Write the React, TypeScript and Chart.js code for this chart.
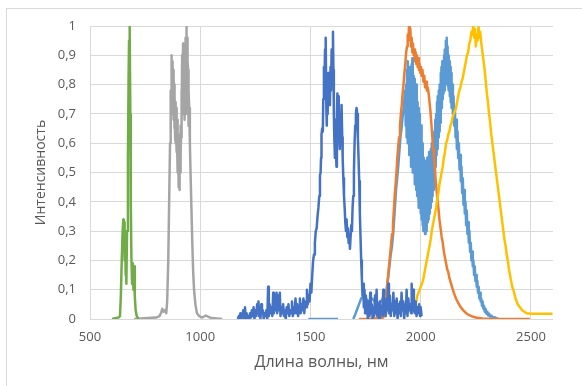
import React, { useEffect, useRef } from "react";
import { Chart, registerables } from "chart.js";

Chart.register(...registerables);

type Pt = [number, number | null];

const xTickValues = [500, 1000, 1500, 2000, 2500];
const yTickLabels = ["0", "0,1", "0,2", "0,3", "0,4", "0,5", "0,6", "0,7", "0,8", "0,9", "1"];
const xTitle = "Длина волны, нм";
const yTitle = "Интенсивность";

const greenSeries: Pt[] = [
  [600, 0], [615, 0.003], [630, 0.005], [636, 0.01], [640, 0.08], [644, 0.2], [648, 0.3], [651, 0.34],
  [653, 0.25], [655, 0.33], [657, 0.2], [659, 0.3], [661, 0.15], [663, 0.22], [665, 0.12], [668, 0.3],
  [672, 0.55], [675, 0.82], [677, 0.95], [679, 1.0], [681, 0.98], [683, 0.7], [685, 0.4], [688, 0.2],
  [691, 0.12], [694, 0.19], [697, 0.1], [700, 0.18], [703, 0.08], [707, 0.03], [712, 0.01], [720, 0],
];

const graySeries: Pt[] = [
  [700, 0], [760, 0.003], [800, 0.005], [815, 0.01], [822, 0.02], [828, 0.035], [834, 0.025], [840, 0.03],
  [846, 0.02], [850, 0.06], [855, 0.2], [859, 0.4], [863, 0.6], [866, 0.78], [868, 0.7], [869, 0.9], [871, 0.8],
  [872, 0.86], [873, 0.88], [874, 0.72], [875, 0.75], [876, 0.86], [877, 0.85], [878, 0.68], [879, 0.7], [880, 0.82],
  [881, 0.8], [882, 0.65], [883, 0.66], [884, 0.78], [885, 0.76], [886, 0.62], [887, 0.65], [888, 0.74],
  [889, 0.72], [890, 0.6], [891, 0.62], [892, 0.72], [893, 0.7], [894, 0.57], [895, 0.6], [896, 0.68], [897, 0.66],
  [898, 0.5], [899, 0.52], [900, 0.63], [901, 0.6], [902, 0.45], [903, 0.46], [904, 0.56], [905, 0.55], [906, 0.44],
  [907, 0.45], [908, 0.6], [909, 0.58], [910, 0.5], [911, 0.66], [912, 0.56], [913, 0.62], [914, 0.78], [915, 0.75],
  [916, 0.64], [917, 0.7], [918, 0.9], [919, 0.88], [920, 0.72], [921, 0.8], [922, 0.94], [923, 0.93], [924, 0.7],
  [925, 0.78], [926, 0.92], [927, 0.9], [928, 0.68], [929, 0.72], [930, 0.9], [931, 0.92], [932, 0.7], [933, 0.8],
  [934, 0.96], [935, 0.95], [936, 0.78], [937, 1.0], [938, 0.8], [939, 0.85], [940, 0.96], [941, 0.92],
  [942, 0.7], [943, 0.75], [944, 0.88], [945, 0.85], [946, 0.66], [947, 0.68], [948, 0.78], [950, 0.72], [953, 0.6],
  [956, 0.5], [960, 0.38], [964, 0.26], [968, 0.16], [972, 0.1], [978, 0.05], [985, 0.02], [995, 0.01],
  [1010, 0.005], [1025, 0.012], [1035, 0.008], [1050, 0.003], [1100, 0],
];

const darkBlueSeries: Pt[] = [
  [1170, 0], [1175, 0.01], [1178, 0.0], [1182, 0.02], [1186, 0.0], [1190, 0.01], [1195, 0.03], [1199, 0.0],
  [1203, 0.04], [1206, 0.005], [1210, 0.02], [1214, 0.0], [1218, 0.01], [1222, 0.0], [1226, 0.02], [1230, 0.005],
  [1234, 0.03], [1238, 0.01], [1242, 0.04], [1246, 0.0], [1250, 0.03], [1254, 0.01], [1258, 0.05], [1261, 0.02],
  [1264, 0.06], [1267, 0.01], [1270, 0.04], [1273, 0.0], [1277, 0.05], [1280, 0.02], [1284, 0.03], [1288, 0.0],
  [1292, 0.02], [1296, 0.01], [1300, 0.03], [1304, 0.0], [1308, 0.11], [1311, 0.01], [1315, 0.05], [1319, 0.02],
  [1323, 0.04], [1327, 0.01], [1331, 0.09], [1334, 0.02], [1338, 0.06], [1342, 0.03], [1346, 0.09], [1349, 0.02],
  [1353, 0.08], [1357, 0.03], [1361, 0.09], [1364, 0.01], [1368, 0.04], [1372, 0.02], [1376, 0.05], [1380, 0.01],
  [1384, 0.03], [1388, 0.0], [1392, 0.04], [1396, 0.02], [1400, 0.05], [1404, 0.01], [1408, 0.03], [1412, 0.02],
  [1416, 0.06], [1420, 0.01], [1424, 0.04], [1428, 0.02], [1432, 0.07], [1436, 0.02], [1440, 0.05], [1444, 0.01],
  [1448, 0.04], [1452, 0.07], [1456, 0.02], [1460, 0.05], [1464, 0.03], [1468, 0.07], [1472, 0.02], [1476, 0.06],
  [1480, 0.04], [1484, 0.1], [1488, 0.05], [1492, 0.08], [1496, 0.06], [1500, 0.12], [1504, 0.09], [1508, 0.15],
  [1512, 0.2], [1516, 0.22], [1520, 0.26], [1524, 0.3], [1528, 0.31], [1532, 0.35], [1536, 0.38], [1540, 0.42],
  [1543, 0.49], [1546, 0.5], [1548, 0.55], [1550, 0.63], [1553, 0.65], [1556, 0.64], [1558, 0.75], [1561, 0.86],
  [1563, 0.78], [1566, 0.92], [1568, 0.8], [1570, 0.96], [1572, 0.72], [1574, 0.66], [1576, 0.8], [1578, 0.7],
  [1580, 0.84], [1582, 0.74], [1585, 0.82], [1588, 0.73], [1591, 0.86], [1593, 0.78], [1596, 0.92], [1599, 0.83],
  [1602, 0.98], [1604, 0.85], [1606, 0.7], [1608, 0.62], [1611, 0.55], [1613, 0.68], [1615, 0.58], [1618, 0.52],
  [1620, 0.7], [1622, 0.77], [1625, 0.65], [1628, 0.76], [1630, 0.62], [1633, 0.58], [1636, 0.68], [1638, 0.6],
  [1641, 0.73], [1644, 0.62], [1646, 0.55], [1649, 0.48], [1652, 0.42], [1655, 0.38], [1658, 0.33], [1661, 0.3],
  [1664, 0.34], [1667, 0.28], [1670, 0.31], [1673, 0.26], [1676, 0.29], [1679, 0.24], [1682, 0.28], [1685, 0.32],
  [1688, 0.3], [1691, 0.38], [1694, 0.42], [1697, 0.5], [1700, 0.6], [1703, 0.66], [1706, 0.7], [1709, 0.72],
  [1712, 0.7], [1715, 0.62], [1718, 0.55], [1721, 0.47], [1724, 0.36], [1727, 0.28], [1730, 0.2], [1733, 0.14],
  [1736, 0.08], [1739, 0.12], [1742, 0.04], [1745, 0.1], [1748, 0.02], [1751, 0.08], [1754, 0.03], [1757, 0.06],
  [1760, 0.0], [1764, 0.05], [1768, 0.01], [1771, 0.09], [1774, 0.02], [1778, 0.05], [1782, 0.0], [1786, 0.04],
  [1789, 0.01], [1793, 0.08], [1796, 0.02], [1800, 0.1], [1803, 0.01], [1807, 0.05], [1811, 0.0], [1815, 0.06],
  [1819, 0.02], [1823, 0.04], [1827, 0.01], [1830, 0.1], [1833, 0.02], [1837, 0.06], [1841, 0.01], [1845, 0.07],
  [1849, 0.03], [1853, 0.12], [1856, 0.02], [1860, 0.08], [1864, 0.01], [1868, 0.05], [1872, 0.03], [1876, 0.09],
  [1880, 0.01], [1884, 0.06], [1888, 0.02], [1891, 0.07], [1895, 0.0], [1899, 0.05], [1903, 0.02], [1907, 0.06],
  [1910, 0.01], [1913, 0.09], [1917, 0.03], [1921, 0.06], [1925, 0.0], [1929, 0.05], [1933, 0.02], [1936, 0.1],
  [1940, 0.01], [1944, 0.07], [1948, 0.03], [1952, 0.05], [1956, 0.02], [1959, 0.12], [1963, 0.04], [1966, 0.1],
  [1969, 0.03], [1973, 0.02], [1977, 0.06], [1981, 0.01], [1985, 0.04], [1989, 0.02], [1993, 0.05], [1997, 0.01],
  [2000, 0.04], [2004, 0.01],
];

const lightBlueSeries: Pt[] = [
  [1490, 0], [1625, 0], [1660, null], [1694, 0], [1700, 0.01], [1710, 0.03], [1720, 0.05], [1730, 0.07],
  [1745, 0.08], [1760, 0.06], [1780, 0.07], [1800, 0.05], [1820, 0.06], [1835, 0.08], [1845, 0.1], [1852, 0.14],
  [1858, 0.18], [1864, 0.22], [1870, 0.25], [1876, 0.3], [1882, 0.37], [1888, 0.44], [1893, 0.48], [1898, 0.52],
  [1903, 0.57], [1908, 0.62], [1913, 0.65], [1918, 0.69], [1923, 0.72], [1927, 0.76],
  [1930, 0.78], [1932, 0.66], [1934, 0.8], [1936, 0.62], [1938, 0.85], [1940, 0.6], [1942, 0.88], [1944, 0.64],
  [1946, 0.82], [1948, 0.56], [1950, 0.86], [1952, 0.58], [1954, 0.8], [1956, 0.52], [1958, 0.87], [1960, 0.55],
  [1962, 0.89], [1964, 0.5], [1966, 0.83], [1968, 0.54], [1970, 0.8], [1972, 0.46], [1974, 0.82], [1976, 0.5],
  [1978, 0.76], [1980, 0.44], [1982, 0.8], [1984, 0.42], [1986, 0.74], [1988, 0.45], [1990, 0.72], [1992, 0.38],
  [1994, 0.7], [1996, 0.4], [1998, 0.64], [2000, 0.36], [2002, 0.66], [2004, 0.34], [2006, 0.58], [2008, 0.32],
  [2010, 0.6], [2012, 0.3], [2014, 0.55], [2016, 0.33], [2018, 0.52], [2020, 0.29], [2022, 0.54], [2024, 0.31],
  [2026, 0.5], [2028, 0.3], [2030, 0.55], [2032, 0.33], [2034, 0.52], [2036, 0.34], [2038, 0.57], [2040, 0.36],
  [2042, 0.55], [2044, 0.38], [2046, 0.58], [2048, 0.4], [2050, 0.6], [2052, 0.42], [2054, 0.58], [2056, 0.44],
  [2058, 0.63], [2060, 0.46], [2062, 0.64], [2064, 0.5], [2066, 0.68], [2068, 0.52], [2070, 0.7], [2072, 0.56],
  [2074, 0.74], [2076, 0.58], [2078, 0.76], [2080, 0.62], [2082, 0.78], [2084, 0.64], [2086, 0.8], [2088, 0.67],
  [2090, 0.84], [2092, 0.7], [2094, 0.86], [2096, 0.72], [2098, 0.88], [2100, 0.75], [2102, 0.87], [2104, 0.77],
  [2106, 0.9], [2108, 0.78], [2110, 0.92], [2112, 0.8], [2114, 0.95], [2116, 0.82], [2118, 0.96], [2120, 0.84],
  [2122, 0.93], [2124, 0.8], [2126, 0.9], [2128, 0.78], [2130, 0.88], [2132, 0.76], [2134, 0.86], [2136, 0.74],
  [2138, 0.84], [2140, 0.72], [2143, 0.8], [2146, 0.7], [2149, 0.76], [2152, 0.66], [2155, 0.72], [2158, 0.62],
  [2161, 0.68], [2164, 0.58], [2167, 0.64], [2170, 0.55], [2173, 0.6], [2176, 0.51], [2179, 0.56], [2182, 0.47],
  [2185, 0.52], [2188, 0.43], [2191, 0.48], [2194, 0.39], [2197, 0.44], [2200, 0.36], [2203, 0.4], [2206, 0.32],
  [2209, 0.37], [2212, 0.29], [2215, 0.33], [2218, 0.26], [2221, 0.3], [2224, 0.23], [2227, 0.26], [2230, 0.2],
  [2233, 0.23], [2236, 0.18], [2239, 0.2], [2242, 0.15], [2245, 0.18], [2248, 0.13], [2251, 0.15], [2254, 0.11],
  [2257, 0.13], [2260, 0.09], [2263, 0.11], [2266, 0.07], [2269, 0.09], [2272, 0.06], [2275, 0.07], [2278, 0.045],
  [2281, 0.06], [2284, 0.035], [2287, 0.045], [2290, 0.025], [2294, 0.035], [2298, 0.018], [2302, 0.025], [2306, 0.012],
  [2310, 0.018], [2315, 0.008], [2320, 0.012], [2328, 0.004], [2336, 0.006], [2345, 0.002], [2355, 0],
];

const orangeSeries: Pt[] = [
  [1720, 0], [1760, 0], [1800, 0.003], [1830, 0.005], [1840, 0.03], [1845, 0.08], [1850, 0.13], [1855, 0.17],
  [1860, 0.21], [1865, 0.25], [1870, 0.29], [1874, 0.32], [1878, 0.37], [1882, 0.42], [1886, 0.46], [1890, 0.5],
  [1894, 0.55], [1898, 0.59], [1902, 0.62], [1906, 0.66], [1910, 0.7], [1914, 0.73], [1918, 0.77], [1922, 0.8],
  [1926, 0.84], [1930, 0.87], [1934, 0.91], [1938, 0.93], [1941, 0.97], [1944, 0.95], [1947, 1.0], [1950, 0.97],
  [1953, 0.99], [1956, 0.93], [1959, 0.96], [1962, 0.91], [1965, 0.94], [1968, 0.9], [1971, 0.92], [1974, 0.88],
  [1977, 0.91], [1980, 0.87], [1983, 0.9], [1986, 0.86], [1989, 0.89], [1992, 0.85], [1995, 0.87], [1998, 0.84],
  [2001, 0.86], [2004, 0.83], [2008, 0.85], [2012, 0.81], [2016, 0.83], [2020, 0.79], [2024, 0.81], [2028, 0.78],
  [2032, 0.79], [2036, 0.77], [2040, 0.74], [2044, 0.71], [2048, 0.67], [2052, 0.63], [2056, 0.58], [2060, 0.55],
  [2064, 0.52], [2068, 0.47], [2072, 0.44], [2076, 0.41], [2080, 0.38], [2085, 0.34], [2090, 0.31], [2095, 0.28],
  [2100, 0.26], [2105, 0.23], [2110, 0.21], [2115, 0.19], [2120, 0.17], [2125, 0.16], [2130, 0.14], [2140, 0.115],
  [2150, 0.09], [2160, 0.07], [2170, 0.055], [2180, 0.042], [2190, 0.032], [2200, 0.024], [2215, 0.015], [2230, 0.01],
  [2250, 0.005], [2280, 0.002], [2320, 0], [2400, 0], [2495, 0],
];

const yellowSeries: Pt[] = [
  [1975, 0.045], [1980, 0.06], [1985, 0.08], [1990, 0.09], [1995, 0.1], [2000, 0.11], [2005, 0.12], [2010, 0.13],
  [2015, 0.15], [2020, 0.17], [2025, 0.19], [2030, 0.21], [2035, 0.23], [2040, 0.25], [2045, 0.27], [2050, 0.3],
  [2055, 0.32], [2060, 0.34], [2065, 0.36], [2070, 0.38], [2075, 0.41], [2080, 0.43], [2085, 0.46], [2090, 0.48],
  [2095, 0.5], [2100, 0.52], [2105, 0.55], [2110, 0.57], [2115, 0.6], [2120, 0.61], [2125, 0.63], [2130, 0.64],
  [2135, 0.66], [2140, 0.67], [2145, 0.69], [2150, 0.7], [2155, 0.71], [2160, 0.72], [2165, 0.74], [2170, 0.76],
  [2175, 0.78], [2180, 0.79], [2185, 0.81], [2190, 0.82], [2195, 0.84], [2200, 0.86], [2205, 0.88], [2210, 0.9],
  [2215, 0.91], [2220, 0.94], [2225, 0.95], [2230, 0.98], [2235, 0.97], [2238, 1.0], [2242, 0.96], [2246, 0.99],
  [2250, 0.93], [2254, 0.97], [2258, 0.95], [2262, 1.0], [2266, 0.96], [2270, 0.98], [2275, 0.94], [2280, 0.91],
  [2285, 0.88], [2290, 0.85], [2295, 0.81], [2300, 0.77], [2305, 0.74], [2310, 0.7], [2315, 0.67], [2320, 0.63],
  [2325, 0.6], [2330, 0.57], [2335, 0.54], [2340, 0.51], [2345, 0.48], [2350, 0.45], [2355, 0.42], [2360, 0.39],
  [2365, 0.36], [2370, 0.33], [2375, 0.3], [2380, 0.27], [2385, 0.25], [2390, 0.22], [2395, 0.2], [2400, 0.17],
  [2405, 0.15], [2410, 0.13], [2415, 0.11], [2420, 0.1], [2430, 0.07], [2440, 0.05], [2450, 0.04], [2460, 0.03],
  [2470, 0.025], [2480, 0.02], [2500, 0.018], [2550, 0.018], [2598, 0.018],
];

const toPoints = (s: Pt[]) => s.map(([x, y]) => ({ x, y }));

export default function App() {
  const ref = useRef<HTMLCanvasElement | null>(null);

  useEffect(() => {
    if (!ref.current) return;
    const font = "'Open Sans', 'Noto Sans', sans-serif";
    const textColor = "#595959";
    const gridColor = "#d9d9d9";
    const mk = (data: Pt[], color: string, order: number) => ({
      data: toPoints(data),
      borderColor: color,
      backgroundColor: color,
      borderWidth: 2.5,
      pointRadius: 0,
      tension: 0,
      fill: false,
      spanGaps: false,
      borderJoinStyle: "round" as const,
      order,
    });
    const chart = new Chart(ref.current, {
      type: "line",
      data: {
        datasets: [
          mk(greenSeries, "#70AD47", 1),
          mk(graySeries, "#A5A5A5", 2),
          mk(darkBlueSeries, "#4472C4", 0),
          mk(lightBlueSeries, "#5B9BD5", 5),
          mk(orangeSeries, "#ED7D31", 4),
          mk(yellowSeries, "#FFC000", 3),
        ],
      },
      options: {
        animation: false,
        responsive: false,
        layout: { padding: { left: 0, right: 29, top: 26, bottom: 0 } },
        plugins: { legend: { display: false }, tooltip: { enabled: false } },
        scales: {
          x: {
            type: "linear",
            min: 500,
            max: 2600,
            afterFit: (s: any) => {
              s.height = 67;
            },
            afterBuildTicks: (s: any) => {
              s.ticks = xTickValues.map((v) => ({ value: v }));
            },
            ticks: {
              color: textColor,
              font: { family: font, size: 13 },
              padding: 10,
              maxRotation: 0,
              autoSkip: false,
              callback: (v: any) => String(v),
            },
            grid: { color: gridColor, drawTicks: false, lineWidth: 1 },
            border: { display: false },
            title: {
              display: true,
              text: xTitle,
              color: textColor,
              font: { family: font, size: 16 },
              padding: { top: 0, bottom: 14 },
            },
          },
          y: {
            min: 0,
            max: 1,
            afterFit: (s: any) => {
              s.width = 90;
            },
            ticks: {
              stepSize: 0.1,
              color: textColor,
              font: { family: font, size: 13 },
              padding: 14,
              callback: (_v: any, i: number) => yTickLabels[i],
            },
            grid: { color: gridColor, drawTicks: false, lineWidth: 1 },
            border: { display: false },
            title: {
              display: true,
              text: yTitle,
              color: textColor,
              font: { family: font, size: 14 },
              padding: { top: 33, bottom: 0 },
            },
          },
        },
      },
    });
    return () => chart.destroy();
  }, []);

  return (
    <div style={{ position: "fixed", left: 0, top: 0, width: 582, height: 386, background: "#fff", overflow: "hidden" }}>
      <div
        style={{
          position: "absolute",
          left: 6,
          top: 8,
          width: 600,
          height: 400,
          borderLeft: "1px solid #d9d9d9",
          borderTop: "1px solid #d9d9d9",
        }}
      />
      <canvas ref={ref} width={582} height={386} style={{ position: "absolute", left: 0, top: 0 }} />
    </div>
  );
}
